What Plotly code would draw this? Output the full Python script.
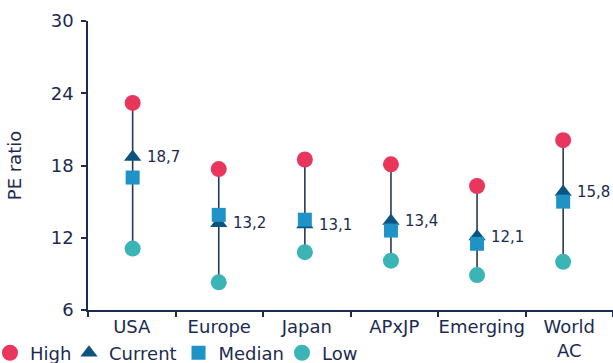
import plotly.graph_objects as go

# Price/earnings ranges by region
regions = ["USA", "Europe", "Japan", "APxJP", "Emerging", "World<br>AC"]
high = [23.2, 17.7, 18.5, 18.1, 16.3, 20.1]
current = [18.7, 13.2, 13.1, 13.4, 12.1, 15.8]
median = [17.0, 13.9, 13.5, 12.6, 11.5, 15.0]
low = [11.1, 8.3, 10.8, 10.1, 8.9, 10.0]

y_ticks = [6, 12, 18, 24, 30]

NAVY = "#1c2b4f"
FONT = "DejaVu Sans"

fig = go.Figure()

# Category axis carrying the region labels (markers sit on x2)
fig.add_trace(go.Scatter(
    x=regions, y=low, mode="markers", marker=dict(opacity=0),
    showlegend=False, hoverinfo="skip", xaxis="x",
))

# High–low range stems
stem_x, stem_y = [], []
for r, lo, hi in zip(regions, low, high):
    stem_x += [r, r, None]
    stem_y += [lo, hi, None]
fig.add_trace(go.Scatter(
    x=stem_x, y=stem_y, mode="lines", xaxis="x2",
    line=dict(color="#27385c", width=1.6),
    showlegend=False, hoverinfo="skip",
))

fig.add_trace(go.Scatter(
    x=regions, y=high, mode="markers", name="High", legend="legend", xaxis="x2",
    marker=dict(symbol="circle", size=16, color="#e8365d"),
))
fig.add_trace(go.Scatter(
    x=regions, y=current, mode="markers", name="Current", legend="legend2", xaxis="x2",
    marker=dict(symbol="triangle-up", size=15, color="#0c5380"),
))
fig.add_trace(go.Scatter(
    x=regions, y=median, mode="markers", name="Median", legend="legend3", xaxis="x2",
    marker=dict(symbol="square", size=14, color="#1f93c6"),
))
fig.add_trace(go.Scatter(
    x=regions, y=low, mode="markers", name="Low", legend="legend4", xaxis="x2",
    marker=dict(symbol="circle", size=16, color="#3ab4b5"),
))

# Value labels beside the current-PE markers
for r, v in zip(regions, current):
    fig.add_annotation(
        x=r, y=v, xref="x2", yref="y", text=f"{v:.1f}".replace(".", ","),
        showarrow=False, xanchor="left", yanchor="middle", xshift=12,
        font=dict(family=FONT, size=15, color=NAVY),
    )


def legend_box(x):
    return dict(
        orientation="h", x=x, xanchor="left", y=-0.149, yanchor="middle",
        font=dict(family=FONT, size=18, color=NAVY),
        itemwidth=30, bgcolor="rgba(0,0,0,0)", borderwidth=0,
    )


fig.update_layout(
    width=613, height=363,
    margin=dict(l=88, r=0, t=21, b=53, autoexpand=False),
    paper_bgcolor="white", plot_bgcolor="white",
    font=dict(family=FONT, size=18, color=NAVY),
    legend=legend_box(-0.1867),
    legend2=legend_box(-0.0362),
    legend3=legend_box(0.1724),
    legend4=legend_box(0.3695),
    xaxis=dict(
        type="category", range=[-0.5, 5.5],
        showline=True, linecolor=NAVY, linewidth=1.5,
        ticks="outside", ticklen=5, tickcolor=NAVY, tickwidth=1.5,
        tickson="boundaries", tickangle=0, showgrid=False, zeroline=False,
        tickfont=dict(family=FONT, size=18, color=NAVY),
    ),
    xaxis2=dict(
        type="category", overlaying="x", range=[-0.5186, 5.579],
        visible=False, showgrid=False, zeroline=False,
    ),
    yaxis=dict(
        range=[6, 30], tickvals=y_ticks,
        showline=True, linecolor=NAVY, linewidth=1.5,
        ticks="outside", ticklen=5, tickcolor=NAVY, tickwidth=1.5,
        ticklabelstandoff=4,
        showgrid=False, zeroline=False,
        tickfont=dict(family=FONT, size=18, color=NAVY),
        title=dict(text="PE ratio", font=dict(family=FONT, size=18, color=NAVY), standoff=24),
    ),
)

fig.write_html("out.html")
